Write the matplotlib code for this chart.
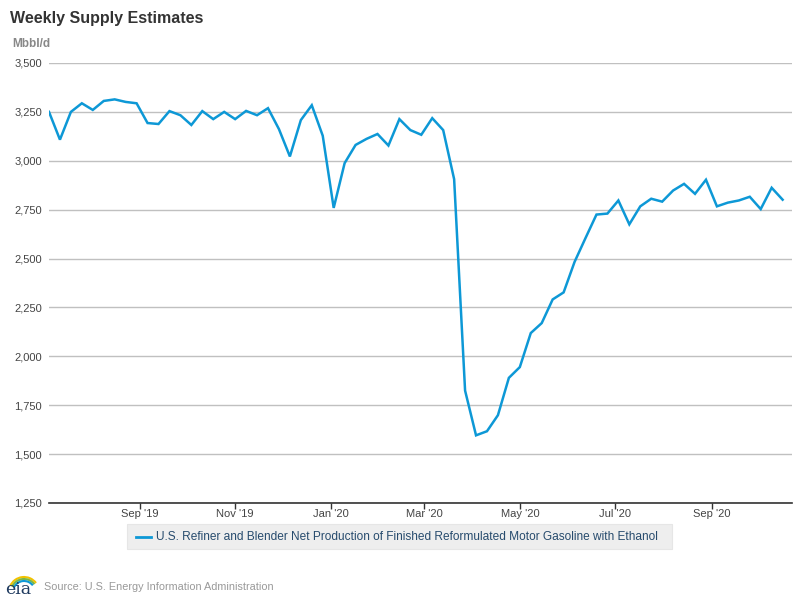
import datetime as dt

import matplotlib
matplotlib.use("Agg")
import matplotlib.pyplot as plt
import matplotlib.dates as mdates
from matplotlib.patches import Rectangle, Arc
from matplotlib.ticker import FuncFormatter

# weekly values, Mbbl/d, starting Friday 2019-07-05
start_date = dt.date(2019, 7, 5)
production = [
    3250, 3108, 3250, 3294, 3260, 3306, 3314, 3301, 3294, 3193,
    3188, 3254, 3233, 3183, 3254, 3213, 3250, 3213, 3255, 3233,
    3269, 3162, 3022, 3208, 3284, 3128, 2759, 2988, 3081, 3112,
    3137, 3078, 3213, 3157, 3133, 3218, 3157, 2906, 1825, 1596,
    1617, 1699, 1890, 1945, 2119, 2170, 2291, 2327, 2483, 2605,
    2725, 2730, 2797, 2675, 2767, 2806, 2791, 2848, 2882, 2831,
    2903, 2767, 2786, 2797, 2816, 2753, 2862, 2801,
]
dates = [start_date + dt.timedelta(weeks=i) for i in range(len(production))]

tick_dates = [dt.date(2019, 9, 1), dt.date(2019, 11, 1), dt.date(2020, 1, 1),
              dt.date(2020, 3, 1), dt.date(2020, 5, 1), dt.date(2020, 7, 1),
              dt.date(2020, 9, 1)]
y_ticks = list(range(1250, 3501, 250))

series_name = "U.S. Refiner and Blender Net Production of Finished Reformulated Motor Gasoline with Ethanol"

plt.rcParams["font.family"] = ["Liberation Sans", "DejaVu Sans"]

fig = plt.figure(figsize=(8, 6), dpi=100)
W, H = 800, 600
ax = fig.add_axes([49 / W, 1 - 503 / H, (792 - 49) / W, (503 - 63) / H])

ax.plot(dates, production, color="#0d98d6", linewidth=1.8, solid_joinstyle="miter")

ax.set_xlim(start_date, dt.date(2020, 10, 22))
ax.set_ylim(1250, 3500)
ax.set_yticks(y_ticks)
ax.yaxis.set_major_formatter(FuncFormatter(lambda v, p: f"{int(v):,}"))
ax.set_xticks(tick_dates)
ax.xaxis.set_major_formatter(mdates.DateFormatter("%b '%y"))

ax.grid(axis="y", color="#c0c0c0", linewidth=1)
ax.set_axisbelow(True)
for side in ["top", "right", "left"]:
    ax.spines[side].set_visible(False)
ax.spines["bottom"].set_color("#333333")
ax.spines["bottom"].set_linewidth(1.2)
ax.tick_params(axis="y", length=0, pad=5, labelsize=8, labelcolor="#444444")
ax.tick_params(axis="x", length=4, width=1, color="#333333", pad=0.5,
               labelsize=8, labelcolor="#444444")

fig.text(10 / W, 1 - 18 / H, "Weekly Supply Estimates", fontsize=11.5,
         fontweight="bold", color="#333333", va="center", ha="left")
fig.text(12 / W, 1 - 44 / H, "Mbbl/d", fontsize=8.5, fontweight="bold",
         color="#888888", va="center", ha="left")

# legend box
fig.patches.append(Rectangle((127 / W, 1 - 549 / H), (672 - 127) / W, 25 / H,
                             transform=fig.transFigure, facecolor="#eeeeee",
                             edgecolor="#e6e6e6", linewidth=0.8))
fig.lines.append(plt.Line2D([136 / W, 151 / W], [1 - 537 / H] * 2,
                            transform=fig.transFigure, color="#0d98d6", linewidth=2))
fig.text(156 / W, 1 - 537 / H, series_name, fontsize=8.6, color="#274b6d",
         va="center", ha="left")

# eia logo and source
fig.text(5 / W, 1 - 589 / H, "eia", family="DejaVu Serif", fontsize=12.5,
         color="#1f3a5f", va="center", ha="left")
for r, c in [(15, "#f2c200"), (13, "#7ab648"), (11, "#0d98d6")]:
    fig.patches.append(Arc((24 / W, 1 - 592 / H), 2 * r / W, 2 * r / H,
                           theta1=45, theta2=150, transform=fig.transFigure,
                           color=c, linewidth=1.5))
fig.text(44 / W, 1 - 587 / H, "Source: U.S. Energy Information Administration",
         fontsize=7.8, color="#999999", va="center", ha="left")

fig.savefig("out.png", dpi=100)
